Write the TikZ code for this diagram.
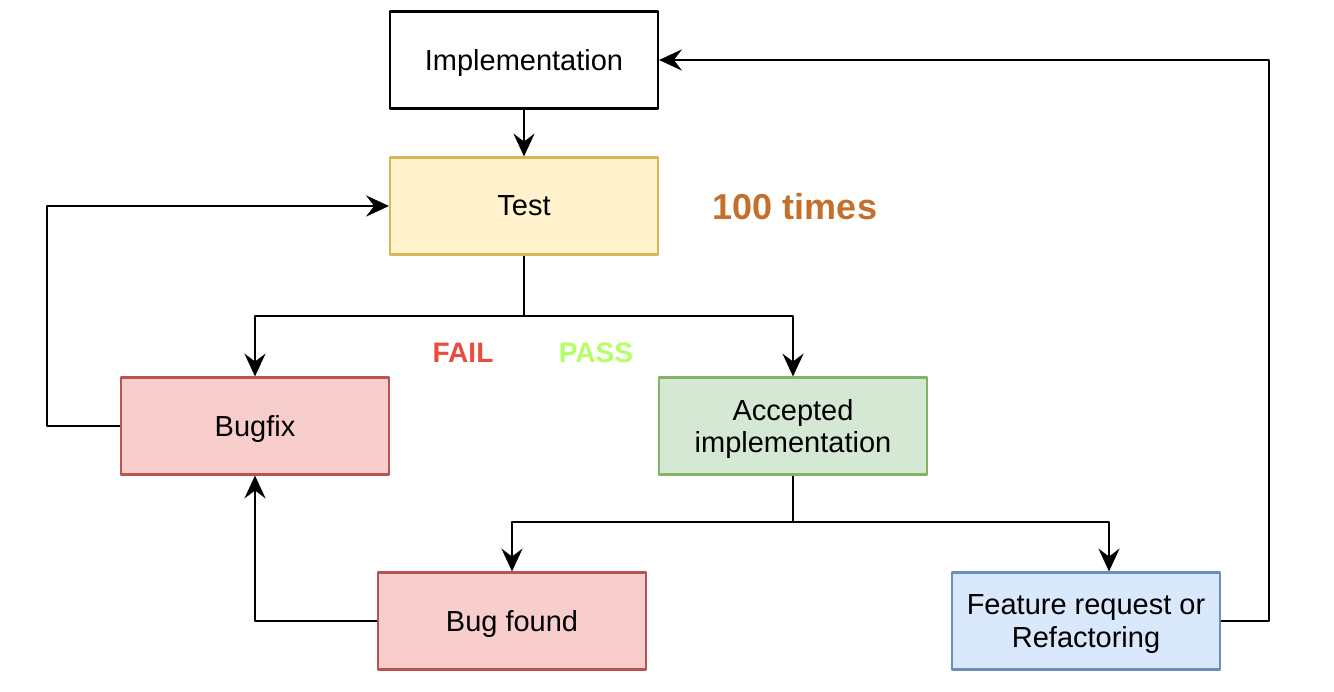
\documentclass[tikz,border=0pt]{standalone}
\usepackage{fontspec}
\setmainfont{Liberation Sans}
\usetikzlibrary{arrows.meta}
\definecolor{testfill}{HTML}{FFF2CC}\definecolor{testline}{HTML}{D6B656}
\definecolor{bugfill}{HTML}{F8CECC}\definecolor{bugline}{HTML}{B85450}
\definecolor{okfill}{HTML}{D5E8D4}\definecolor{okline}{HTML}{82B366}
\definecolor{featfill}{HTML}{DAE8FC}\definecolor{featline}{HTML}{6C8EBF}
\definecolor{timescol}{HTML}{C4702C}\definecolor{failcol}{HTML}{EA4B3C}\definecolor{passcol}{HTML}{B3FF66}
\tikzset{box/.style={draw,line width=1.2pt,minimum width=5.36cm,minimum height=1.94cm,align=center,text depth=0pt,font=\fontsize{16.5}{18.5}\selectfont},
	flow/.style={line width=1.2pt,-{Stealth[length=13pt,width=12pt,inset=4.5pt]}}}
\begin{document}
\begin{tikzpicture}[x=0.02cm,y=-0.02cm,line join=round]
			\useasboundingbox (0,0) rectangle (1334,692);
			\node[box] (impl) at (524,60) {Implementation};
			\node[box,fill=testfill,draw=testline] (test) at (524,206) {Test};
			\node[box,fill=bugfill,draw=bugline] (bugfix) at (255,426) {Bugfix};
			\node[box,fill=okfill,draw=okline] (accepted) at (793,426) {Accepted\\implementation};
			\node[box,fill=bugfill,draw=bugline] (bugfound) at (512,621) {Bug found};
			\node[box,fill=featfill,draw=featline] (feature) at (1086,621) {Feature request or\\Refactoring};
			\node[text=timescol,font=\bfseries\fontsize{20.5}{24}\selectfont] (times) at (795,207) {100 times};
			\node[text=failcol,font=\bfseries\fontsize{16}{19}\selectfont] (fail) at (463,353) {FAIL};
			\node[text=passcol,font=\bfseries\fontsize{16}{19}\selectfont] (pass) at (596,353) {PASS};
			\coordinate (split1) at (524,316);
			\coordinate (split2) at (793,522);
			\draw[flow] (impl) -- (test);
			\draw[flow] (test.south) -- (split1) -| (bugfix.north);
			\draw[flow] (split1) -| (accepted.north);
			\draw[flow] (bugfix.west) -- ++(-73,0) |- (test.west);
			\draw[flow] (accepted.south) -- (split2) -| (bugfound.north);
			\draw[flow] (split2) -| ([xshift=0.46cm]feature.north);
			\draw[flow] (bugfound.west) -| (bugfix.south);
			\draw[flow] (feature.east) -- ++(48,0) |- (impl.east);
\end{tikzpicture}
\end{document}
